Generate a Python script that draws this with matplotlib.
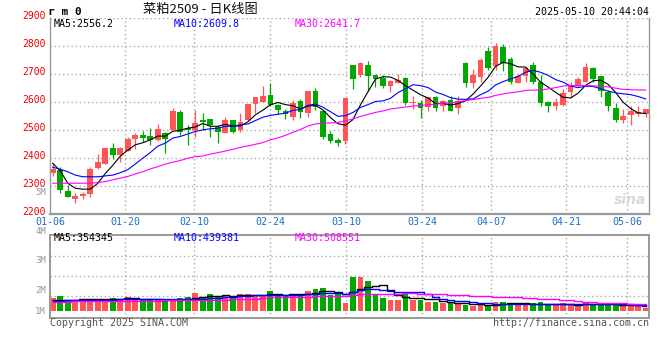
import matplotlib
matplotlib.use("Agg")
import matplotlib.pyplot as plt
import matplotlib.transforms as mtransforms
import numpy as np
import pandas as pd

plt.rcParams['font.family'] = ['DejaVu Sans Mono', 'Noto Sans CJK SC']

# 菜粕2509 daily K-line, 2025-01-06 .. 2025-05-09 (80 trading days)
opens = [2348, 2357, 2282, 2255, 2264, 2272, 2364, 2379, 2436, 2411,
         2426, 2468, 2482, 2479, 2464, 2488, 2500, 2564, 2506, 2500,
         2536, 2539, 2510, 2491, 2536, 2500, 2536, 2594, 2601, 2625,
         2589, 2569, 2548, 2604, 2562, 2639, 2568, 2486, 2464, 2462,
         2732, 2696, 2732, 2696, 2685, 2658, 2669, 2685, 2595, 2595,
         2581, 2617, 2586, 2607, 2577, 2738, 2667, 2690, 2782, 2730,
         2798, 2754, 2669, 2693, 2732, 2673, 2599, 2586, 2589, 2637,
         2658, 2673, 2720, 2693, 2637, 2579, 2536, 2554, 2557, 2556]
highs = [2383, 2369, 2304, 2274, 2280, 2369, 2414, 2441, 2452, 2441,
         2476, 2488, 2497, 2506, 2522, 2494, 2577, 2572, 2518, 2572,
         2560, 2540, 2518, 2545, 2536, 2560, 2593, 2619, 2657, 2669,
         2593, 2575, 2607, 2611, 2639, 2649, 2568, 2497, 2473, 2613,
         2732, 2744, 2746, 2696, 2696, 2679, 2700, 2691, 2621, 2607,
         2619, 2621, 2607, 2623, 2623, 2743, 2717, 2756, 2798, 2810,
         2807, 2762, 2700, 2726, 2744, 2696, 2604, 2613, 2646, 2673,
         2691, 2740, 2726, 2693, 2643, 2595, 2574, 2586, 2586, 2576]
lows = [2334, 2274, 2260, 2241, 2254, 2262, 2362, 2378, 2395, 2384,
        2426, 2431, 2458, 2447, 2462, 2417, 2500, 2482, 2447, 2476,
        2500, 2474, 2455, 2488, 2488, 2494, 2536, 2562, 2601, 2586,
        2557, 2538, 2536, 2544, 2548, 2571, 2468, 2452, 2443, 2450,
        2646, 2690, 2641, 2655, 2651, 2637, 2667, 2589, 2574, 2544,
        2569, 2569, 2569, 2567, 2557, 2655, 2649, 2673, 2714, 2714,
        2712, 2664, 2667, 2673, 2664, 2586, 2565, 2571, 2586, 2613,
        2655, 2673, 2670, 2619, 2569, 2530, 2524, 2518, 2550, 2545]
closes = [2360, 2284, 2262, 2264, 2273, 2362, 2386, 2437, 2411, 2436,
          2469, 2483, 2473, 2464, 2503, 2467, 2569, 2494, 2500, 2524,
          2530, 2518, 2494, 2536, 2494, 2529, 2593, 2618, 2621, 2588,
          2571, 2556, 2596, 2566, 2639, 2583, 2474, 2461, 2455, 2613,
          2683, 2738, 2693, 2681, 2658, 2675, 2679, 2598, 2601, 2577,
          2617, 2577, 2605, 2569, 2604, 2667, 2696, 2750, 2723, 2800,
          2738, 2673, 2693, 2720, 2673, 2595, 2586, 2599, 2631, 2661,
          2682, 2724, 2682, 2641, 2586, 2536, 2550, 2569, 2565, 2574]
volumes = [950000, 1125000, 800000, 800000, 875000, 875000, 875000, 875000, 950000, 875000,
           1025000, 875000, 800000, 800000, 875000, 725000, 725000, 950000, 1025000, 1325000,
           950000, 1250000, 1025000, 1175000, 1100000, 1250000, 1250000, 1100000, 1175000, 1475000,
           1100000, 1100000, 1250000, 1250000, 1475000, 1625000, 1700000, 1175000, 1225000, 575000,
           2525000, 2525000, 2225000, 1250000, 950000, 800000, 800000, 1400000, 800000, 800000,
           650000, 650000, 575000, 575000, 575000, 425000, 350000, 425000, 425000, 650000,
           650000, 575000, 425000, 425000, 575000, 650000, 425000, 425000, 575000, 425000,
           425000, 650000, 425000, 500000, 425000, 425000, 425000, 425000, 425000, 225000]

# averages at the start of the window, where earlier days are not shown
ma5_head = [2381, 2355, 2310, 2292]
ma10_head = [2367, 2360, 2351, 2339, 2333, 2333, 2333, 2336, 2339]
ma30_head = [2310, 2310, 2310, 2310, 2310, 2310, 2312, 2316, 2322, 2328,
             2334, 2343, 2351, 2361, 2369, 2378, 2385, 2391, 2399, 2405,
             2407, 2414, 2419, 2425, 2431, 2438, 2443, 2449, 2455]
vol_ma5_head = [780000, 790000, 800000, 820000]
vol_ma10_head = [760000, 760000, 770000, 780000, 790000, 800000, 810000, 820000, 840000]
vol_ma30_head = [680000, 680000, 690000, 700000, 720000, 740000, 750000, 750000, 750000, 750000,
                 750000, 760000, 760000, 760000, 760000, 770000, 770000, 770000, 780000, 800000,
                 800000, 810000, 825000, 830000, 850000, 870000, 880000, 900000, 920000]

date_labels = ["01-06", "01-20", "02-10", "02-24", "03-10", "03-24", "04-07", "04-21", "05-06"]
date_pos = [-0.36, 9.63, 18.82, 28.95, 39.07, 49.2, 58.39, 68.39, 76.51]
price_ticks = [2200, 2300, 2400, 2500, 2600, 2700, 2800, 2900]
vol_labels = ["5M", "4M", "3M", "2M", "1M"]
vol_label_y = [192.5, 231, 260.7, 290.7, 311.5]   # pixel rows

RED = '#ff5555'
GREEN = '#00a800'
GRID = '#aaaaaa'
BORDER = '#999999'
DOT = (0, (1, 2))
W, H = 660, 360


def moving_avg(values, n, head):
    s = pd.Series(values, dtype=float).rolling(n).mean().values
    s[:n - 1] = head
    return s


def rect(x0, y0, x1, y1):
    return [x0 / W, 1 - y1 / H, (x1 - x0) / W, (y1 - y0) / H]


def ftext(x, y, s, **kw):
    fig.text(x / W, 1 - y / H, s, **kw)


o = np.array(opens, float)
c = np.array(closes, float)
x = np.arange(len(c))
colors = np.where(c >= o, RED, GREEN)

fig = plt.figure(figsize=(6.6, 3.6), dpi=100)
ax = fig.add_axes(rect(50, 18, 649, 214))
axv = fig.add_axes(rect(50, 234.7, 649, 318))

# ---- price panel
ax.set_xlim(-0.36, 79.44)
ax.set_ylim(2200, 2900)
for p in price_ticks[1:]:
    ax.axhline(p, color=GRID, lw=1, ls=DOT, zorder=0)
for t in date_pos[1:]:
    ax.axvline(t, color=GRID, lw=1, ls=DOT, zorder=0)

ax.vlines(x, lows, highs, colors=colors, lw=0.9, zorder=2)
body = np.maximum(np.abs(c - o), 3)
ax.bar(x, body, 0.76, bottom=np.minimum(o, c), color=colors, zorder=2)

ax.plot(x, moving_avg(closes, 5, ma5_head), color='black', lw=0.8, zorder=3)
ax.plot(x, moving_avg(closes, 10, ma10_head), color='#0000ff', lw=0.8, zorder=3)
ax.plot(x, moving_avg(closes, 30, ma30_head), color='#ff00ff', lw=0.8, zorder=3)

ax.set_yticks(price_ticks)
ax.set_yticklabels([str(p) for p in price_ticks], color='#ee0000', fontsize=7)
ax.set_xticks(date_pos)
ax.set_xticklabels(date_labels, color='#1a70c8', fontsize=7.2)
ax.tick_params(length=0)
ax.tick_params(axis='y', pad=3)
ax.tick_params(axis='x', pad=2.5)
shift = mtransforms.ScaledTranslation(0, 0.025, fig.dpi_scale_trans)
for lab in ax.get_yticklabels():
    lab.set_transform(lab.get_transform() + shift)
ax.spines['top'].set_visible(False)
for side in ['left', 'right']:
    ax.spines[side].set_color(BORDER)
    ax.spines[side].set_linewidth(1)
ax.spines['bottom'].set_color(BORDER)
ax.spines['bottom'].set_linewidth(1.6)

ax.text(0.968, 0.07, 'sina', transform=ax.transAxes, fontsize=10, color='#d8d8d8',
        style='italic', fontweight='bold', family='DejaVu Sans',
        ha='center', va='center', zorder=1)

# ---- volume panel
axv.set_xlim(-0.36, 79.44)
vlo, vhi = -547500, 5700000
axv.set_ylim(vlo, vhi)
for f in [0.268, 0.508, 0.748]:
    axv.axhline(vlo + (vhi - vlo) * f, color=GRID, lw=1, ls=DOT, zorder=0)
for t in date_pos[1:]:
    axv.axvline(t, color=GRID, lw=1, ls=DOT, zorder=0)
axv.bar(x, volumes, 0.77, color=colors, zorder=2)
axv.plot(x, moving_avg(volumes, 5, vol_ma5_head), color='black', lw=1.0,
         drawstyle='steps-mid', zorder=3)
axv.plot(x, moving_avg(volumes, 10, vol_ma10_head), color='#0000ff', lw=1.0,
         drawstyle='steps-mid', zorder=3)
axv.plot(x, moving_avg(volumes, 30, vol_ma30_head), color='#ff00ff', lw=1.0,
         drawstyle='steps-mid', zorder=3)
axv.set_xticks([])
axv.set_yticks([])
for side in ['left', 'right', 'top', 'bottom']:
    axv.spines[side].set_color(BORDER)
    axv.spines[side].set_linewidth(1.4)

# ---- texts
ftext(48, 11.7, 'r m 0', fontsize=8, fontweight='bold', va='center', ha='left')
ftext(200, 9.5, '菜粕2509 - 日K线图', fontsize=9.5, family=['Noto Sans CJK SC'],
      va='center', ha='center', color='#111111')
ftext(649, 12, '2025-05-10 20:44:04', fontsize=7.2, va='center', ha='right')

ftext(54, 23.7, 'MA5:2556.2', fontsize=7.2, va='center', color='black')
ftext(174, 23.7, 'MA10:2609.8', fontsize=7.2, va='center', color='#0000ff')
ftext(295, 23.7, 'MA30:2641.7', fontsize=7.2, va='center', color='#ff00ff')

ftext(54, 238, 'MA5:354345', fontsize=7.2, va='center', color='black')
ftext(174, 238, 'MA10:439381', fontsize=7.2, va='center', color='#0000ff')
ftext(295, 238, 'MA30:508551', fontsize=7.2, va='center', color='#ff00ff')

for lab, yy in zip(vol_labels, vol_label_y):
    ftext(46, yy, lab, fontsize=6.5, color='#999999', va='center', ha='right')

ftext(50, 323.5, 'Copyright 2025 SINA.COM', fontsize=7.2, color='#555555', va='center')
ftext(649, 323.5, 'http://finance.sina.com.cn', fontsize=7.2, color='#555555',
      va='center', ha='right')

fig.savefig('out.png', dpi=100)
